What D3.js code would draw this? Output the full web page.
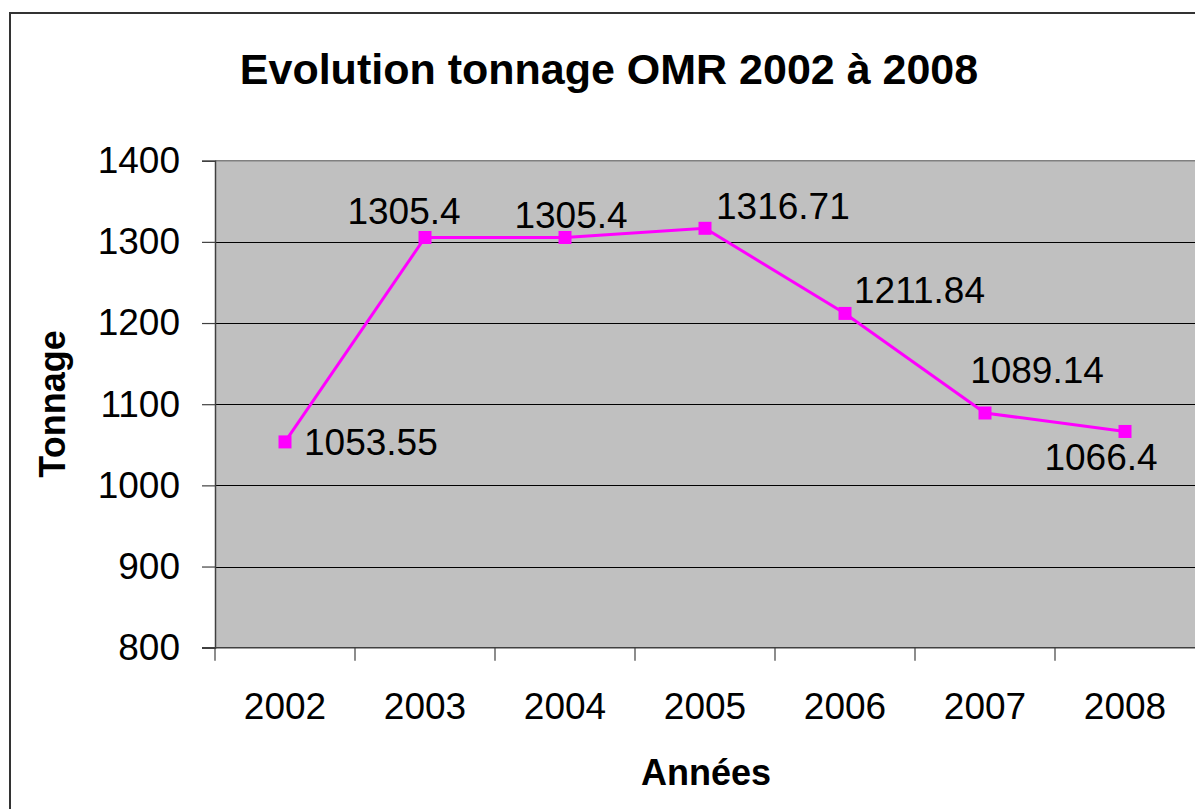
<!DOCTYPE html>
<html>
<head>
<meta charset="utf-8">
<script src="https://cdn.jsdelivr.net/npm/d3@7"></script>
<style>
  body { margin: 0; background: #fff; }
  svg { display: block; font-family: "Liberation Sans", Arial, sans-serif; }
</style>
</head>
<body>
<svg id="chart" width="1195" height="809"></svg>
<script>
// data
var years = ["2002", "2003", "2004", "2005", "2006", "2007", "2008"];
var tonnage = [1053.55, 1305.4, 1305.4, 1316.71, 1211.84, 1089.14, 1066.4];
var yTicks = [800, 900, 1000, 1100, 1200, 1300, 1400];

// where each value label sits relative to its point
var labelPlace = [
  {anchor: "start",  dx: 19,  dy: 13},
  {anchor: "middle", dx: -21, dy: -13},
  {anchor: "middle", dx: 6,   dy: -9},
  {anchor: "start",  dx: 11,  dy: -9},
  {anchor: "start",  dx: 9,   dy: -10},
  {anchor: "middle", dx: 52,  dy: -30},
  {anchor: "middle", dx: -24, dy: 39}
];

var svg = d3.select("#chart");
var plotLeft = 215, plotRight = 1195, plotTop = 160.7, plotBottom = 647.7;

// outer chart frame (runs off the right/bottom edge)
svg.append("rect")
    .attr("x", 10).attr("y", 13)
    .attr("width", 1210).attr("height", 830)
    .attr("fill", "#fff")
    .attr("stroke", "#333").attr("stroke-width", 2);

var x = d3.scaleBand().domain(years).range([plotLeft, plotRight]);
var y = d3.scaleLinear().domain([800, 1400]).range([plotBottom, plotTop]);

// plot area
svg.append("rect")
    .attr("x", plotLeft).attr("y", plotTop)
    .attr("width", plotRight - plotLeft).attr("height", plotBottom - plotTop)
    .attr("fill", "#c0c0c0");

svg.append("line")
    .attr("x1", plotLeft).attr("x2", plotRight + 5)
    .attr("y1", plotTop).attr("y2", plotTop)
    .attr("stroke", "#808080").attr("stroke-width", 1.5);

// gridlines
svg.append("g")
  .selectAll("line")
  .data(yTicks.filter(function(d) { return d > 800 && d < 1400; }))
  .join("line")
    .attr("x1", plotLeft).attr("x2", plotRight + 5)
    .attr("y1", function(d) { return Math.round(y(d)) + 0.5; })
    .attr("y2", function(d) { return Math.round(y(d)) + 0.5; })
    .attr("stroke", "#000").attr("stroke-width", 1);

// y axis
var yAxis = svg.append("g")
    .attr("transform", "translate(" + plotLeft + ",0)")
    .call(d3.axisLeft(y).tickValues(yTicks).tickSize(13).tickPadding(22).tickFormat(d3.format("d")));
yAxis.select(".domain").attr("stroke", "#404040").attr("stroke-width", 1.5);
yAxis.selectAll(".tick line").attr("stroke", "#404040").attr("stroke-width", 1.2);
yAxis.selectAll(".tick text")
    .attr("font-size", 37).attr("fill", "#000")
    .attr("font-family", "Liberation Sans, Arial, sans-serif");

// x axis, ticks between categories
var xAxis = svg.append("g")
    .attr("transform", "translate(0," + plotBottom + ")");
xAxis.append("line")
    .attr("x1", plotLeft - 13).attr("x2", plotRight + 5)
    .attr("y1", 0).attr("y2", 0)
    .attr("stroke", "#404040").attr("stroke-width", 1.5);
xAxis.selectAll(".tk")
  .data(years)
  .join("line")
    .attr("class", "tk")
    .attr("x1", function(d) { return x(d); })
    .attr("x2", function(d) { return x(d); })
    .attr("y1", 0).attr("y2", 13)
    .attr("stroke", "#404040").attr("stroke-width", 1.2);
xAxis.selectAll("text")
  .data(years)
  .join("text")
    .attr("x", function(d) { return x(d) + x.bandwidth() / 2; })
    .attr("y", 71.5)
    .attr("text-anchor", "middle")
    .attr("font-size", 37)
    .text(function(d) { return d; });

// series
var cx = function(d, i) { return x(years[i]) + x.bandwidth() / 2; };
var line = d3.line()
    .x(function(d, i) { return cx(d, i); })
    .y(function(d) { return y(d); });

svg.append("path")
    .datum(tonnage)
    .attr("fill", "none")
    .attr("stroke", "#ff00ff")
    .attr("stroke-width", 3)
    .attr("d", line);

svg.append("g")
  .selectAll("rect")
  .data(tonnage)
  .join("rect")
    .attr("x", function(d, i) { return cx(d, i) - 6.5; })
    .attr("y", function(d) { return y(d) - 6.5; })
    .attr("width", 13).attr("height", 13)
    .attr("fill", "#ff00ff");

svg.append("g")
  .selectAll("text")
  .data(tonnage)
  .join("text")
    .attr("x", function(d, i) { return cx(d, i) + labelPlace[i].dx; })
    .attr("y", function(d, i) { return y(d) + labelPlace[i].dy; })
    .attr("text-anchor", function(d, i) { return labelPlace[i].anchor; })
    .attr("font-size", 37)
    .text(function(d) { return d; });

// titles
svg.append("text")
    .attr("x", 609).attr("y", 84)
    .attr("text-anchor", "middle")
    .attr("font-size", 43).attr("font-weight", "bold")
    .text("Evolution tonnage OMR 2002 à 2008");

svg.append("text")
    .attr("transform", "translate(65,404) rotate(-90)")
    .attr("text-anchor", "middle")
    .attr("font-size", 36).attr("font-weight", "bold")
    .text("Tonnage");

svg.append("text")
    .attr("x", 706).attr("y", 785)
    .attr("text-anchor", "middle")
    .attr("font-size", 36).attr("font-weight", "bold")
    .text("Années");
</script>
</body>
</html>
